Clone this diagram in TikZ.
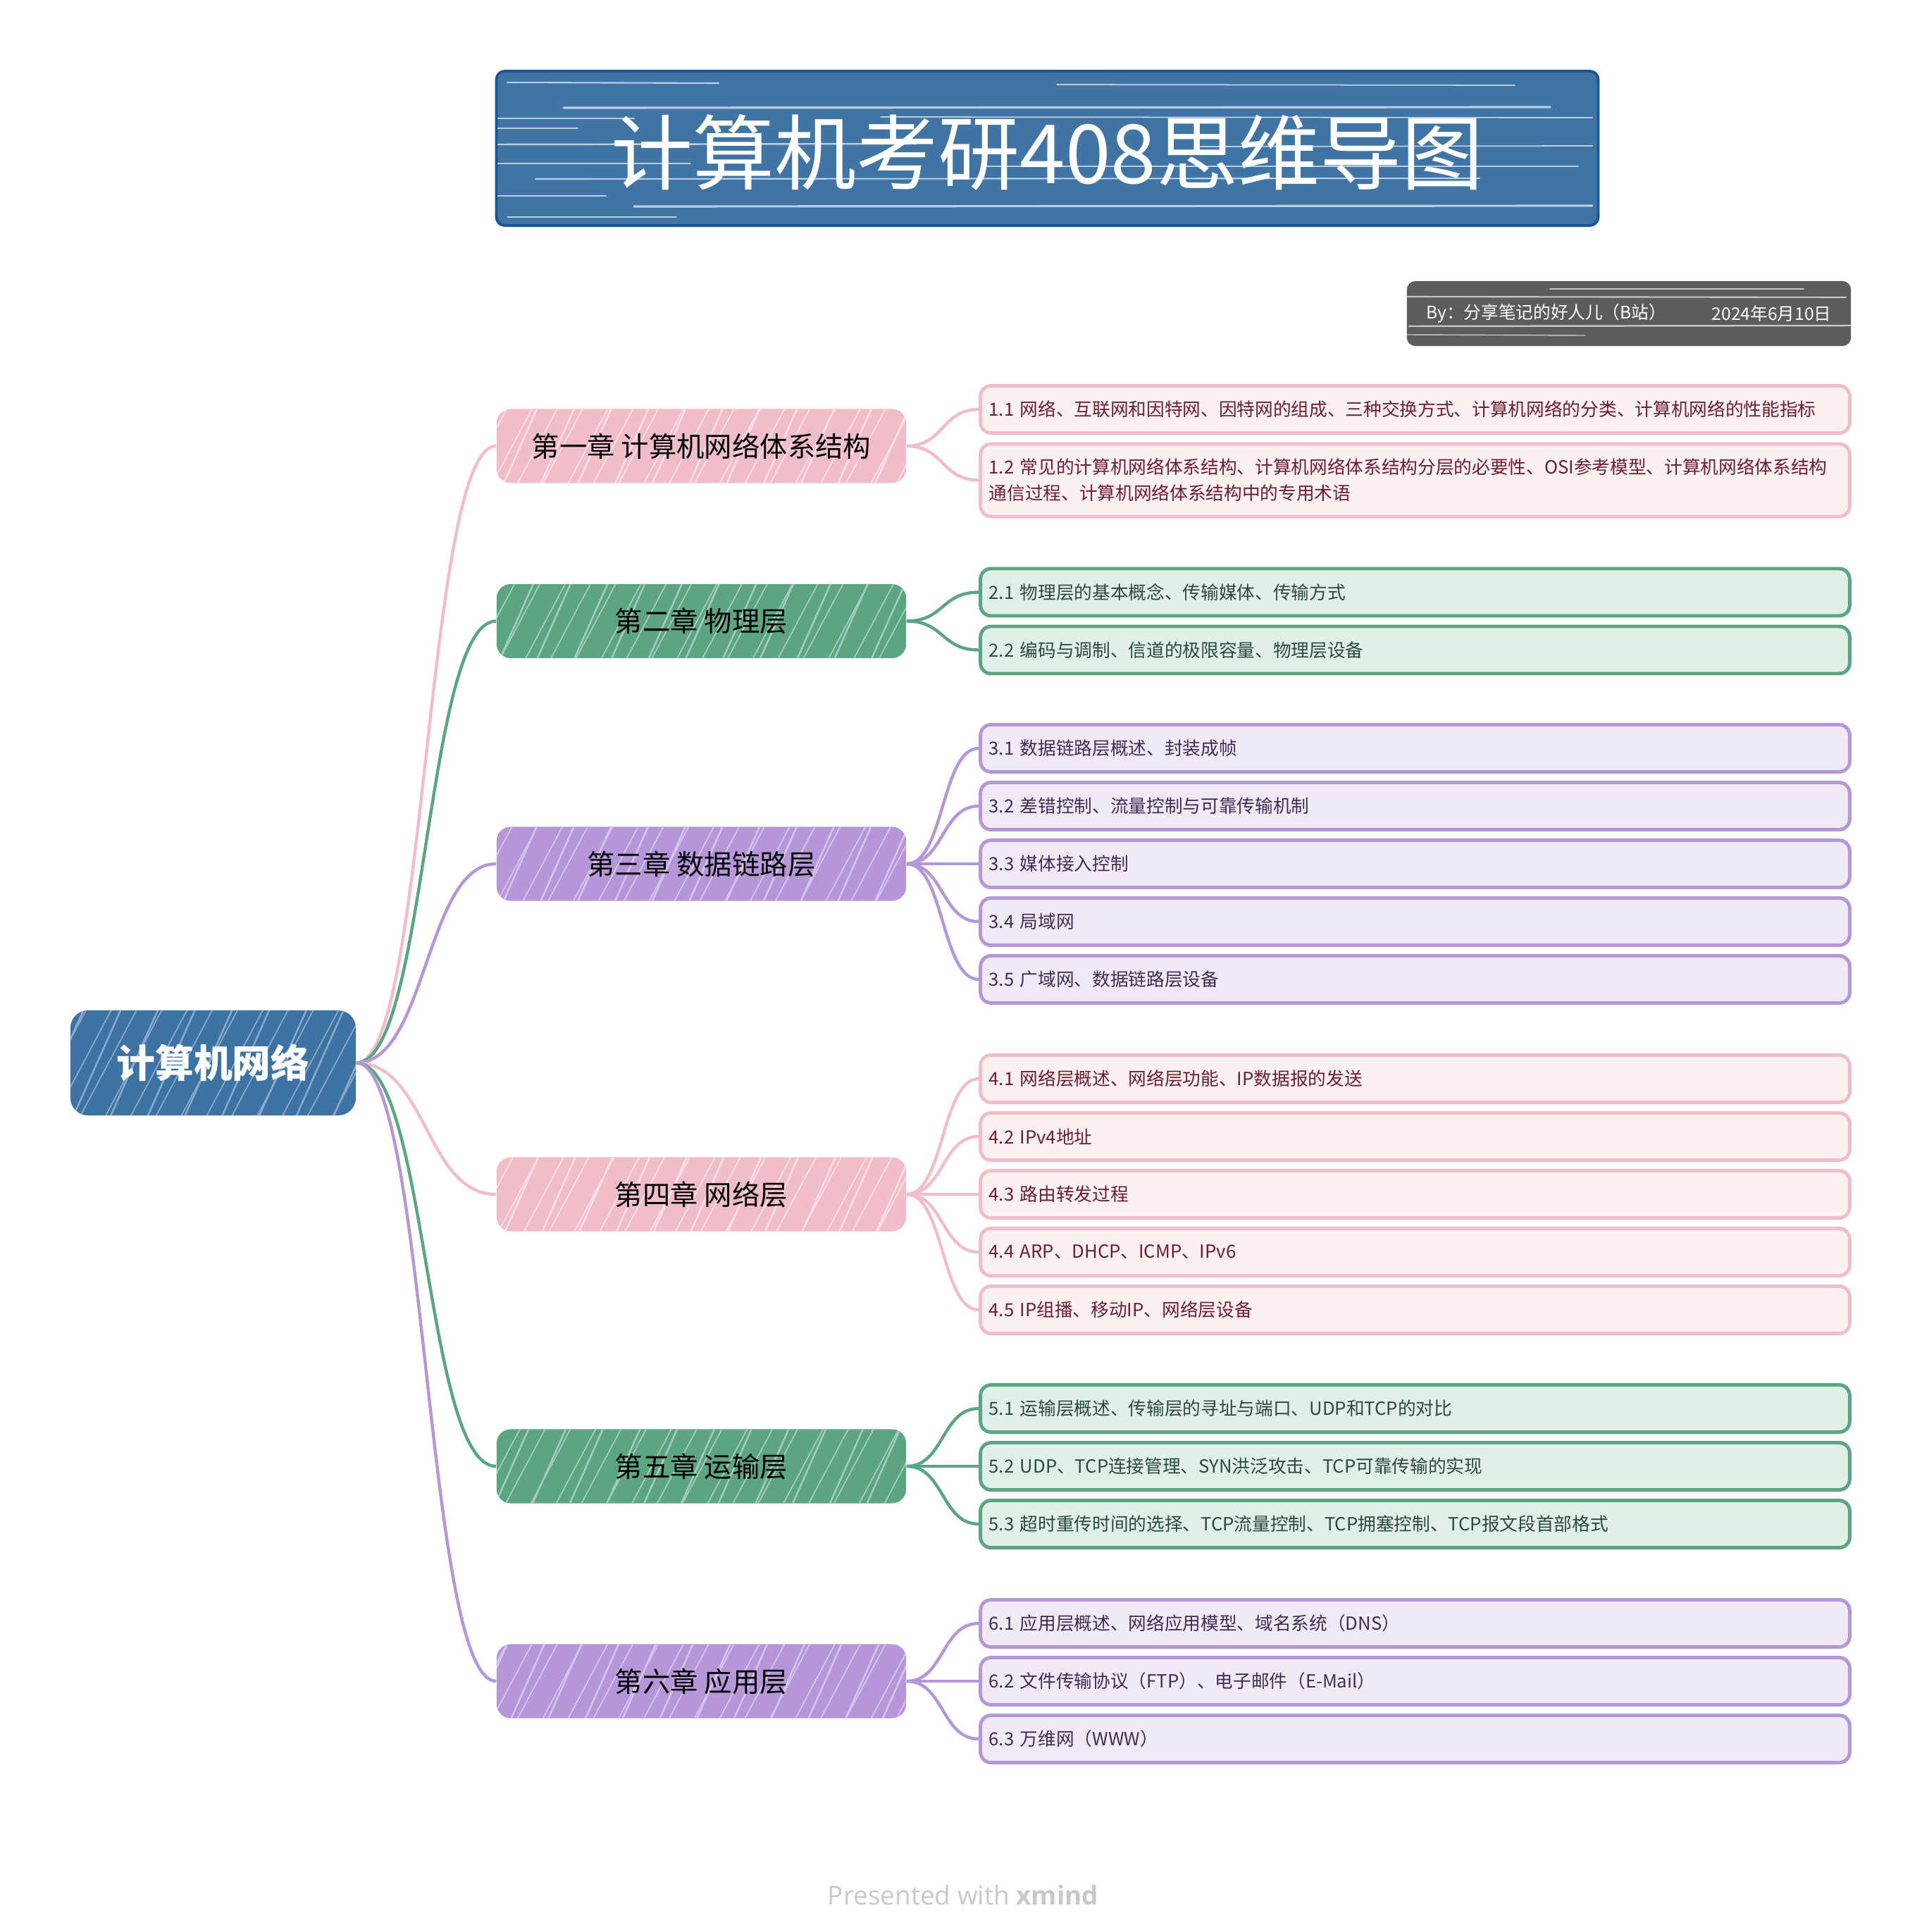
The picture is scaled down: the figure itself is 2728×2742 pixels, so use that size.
\documentclass[tikz,border=0pt]{standalone}
\usepackage{fontspec}
\setmainfont{Noto Sans CJK SC}
\newfontfamily\footfont{Open Sans}
\usetikzlibrary{patterns.meta}
\definecolor{pinkC}{HTML}{F1BDC8}
\definecolor{pinkL}{HTML}{FBF0F2}
\definecolor{pinkT}{HTML}{6E1E2F}
\definecolor{greenC}{HTML}{5BA582}
\definecolor{greenL}{HTML}{E0EFE7}
\definecolor{greenT}{HTML}{2E4A3F}
\definecolor{purpC}{HTML}{B597D9}
\definecolor{purpL}{HTML}{F0EAF7}
\definecolor{purpT}{HTML}{3E2E55}
\definecolor{rootC}{HTML}{3D72A4}
\definecolor{titleC}{HTML}{3F74A5}
\definecolor{titleB}{HTML}{1C5596}
\definecolor{authC}{HTML}{5C5C5C}
\definecolor{footC}{HTML}{C8C8C8}
\begin{document}
\begin{tikzpicture}[x=0.01cm,y=-0.01cm,
  hatch/.style={
    postaction={pattern={Lines[angle=62,distance=9pt,line width=0.5pt]}, pattern color=white!#1},
    postaction={pattern={Lines[angle=66,distance=13.7pt,line width=0.7pt,xshift=3pt]}, pattern color=white!#1}},
  rootbox/.style={fill=rootC, rounded corners=0.25cm, minimum width=4.05cm, minimum height=1.49cm,
    inner sep=0pt, text=white, font=\fontsize{15.6}{18}\selectfont\bfseries, hatch=40!rootC},
  chapbox/.style={rounded corners=0.2cm, minimum width=5.81cm, minimum height=1.05cm,
    inner sep=0pt, text=black, font=\fontsize{11.2}{13}\selectfont},
  pchap/.style={chapbox, fill=pinkC, hatch=55!pinkC},
  gchap/.style={chapbox, fill=greenC, hatch=45!greenC},
  vchap/.style={chapbox, fill=purpC, hatch=45!purpC},
  kidbox/.style={rounded corners=0.15cm, line width=1.4pt, text width=12.09cm, align=left,
    inner xsep=0.12cm, inner ysep=0pt, minimum height=0.67cm, font=\fontsize{7.3}{10.5}\selectfont},
  pkid/.style={kidbox, draw=pinkC, fill=pinkL, text=pinkT},
  gkid/.style={kidbox, draw=greenC, fill=greenL, text=greenT},
  vkid/.style={kidbox, draw=purpC, fill=purpL, text=purpT},
  lnk/.style={line width=1.25pt},
  streak/.style={white, opacity=0.65, line cap=round}
]
\useasboundingbox (0,0) rectangle (2728,2742);

% title
\node[fill=titleC, draw=titleB, line width=1.1pt, rounded corners=0.12cm, minimum width=15.63cm, minimum height=2.19cm, inner sep=0pt] (title) at (1486.5,210.5) {};
\begin{scope}
\clip[rounded corners=0.12cm] (706,102) rectangle (2267,319);
\draw[streak, line width=0.6pt] (720,117) -- (1020,118);
\draw[streak, line width=0.5pt] (1500,120) -- (2150,121);
\draw[streak, line width=0.9pt] (800,153) -- (2200,152);
\draw[streak, line width=0.6pt] (706,168) -- (900,168);
\draw[streak, line width=0.5pt] (1250,166) -- (2260,167);
\draw[streak, line width=0.5pt] (706,182) -- (820,182);
\draw[streak, line width=0.7pt] (706,205) -- (1300,204);
\draw[streak, line width=0.5pt] (1700,208) -- (2260,207);
\draw[streak, line width=0.6pt] (706,232) -- (980,232);
\draw[streak, line width=0.5pt] (1400,236) -- (2240,236);
\draw[streak, line width=0.6pt] (760,254) -- (2100,253);
\draw[streak, line width=0.5pt] (706,278) -- (860,278);
\draw[streak, line width=0.9pt] (900,293) -- (2260,292);
\draw[streak, line width=0.5pt] (720,308) -- (960,308);
\end{scope}
\node[text=white, font=\fontsize{33}{40}\selectfont] (titletext) at (1486.5,216) {计算机考研408思维导图};

% author
\node[fill=authC, rounded corners=0.12cm, minimum width=6.3cm, minimum height=0.92cm, inner sep=0pt] (auth) at (2312,445) {};
\begin{scope}
\clip[rounded corners=0.12cm] (1997,399) rectangle (2627,491);
\draw[streak, line width=0.6pt] (1997,421) -- (2620,422);
\draw[streak, line width=0.4pt] (2200,410) -- (2560,410);
\draw[streak, line width=0.7pt] (2000,463) -- (2627,462);
\draw[streak, line width=0.4pt] (1997,475) -- (2250,476);
\end{scope}
\node[anchor=west, text=white, font=\fontsize{7}{9}\selectfont, inner sep=0pt] (authname) at (2024,445) {By：分享笔记的好人儿（B站）};
\node[anchor=east, text=white, font=\fontsize{7}{9}\selectfont, inner sep=0pt] (authdate) at (2600,445) {2024年6月10日};

% root
\node[rootbox] (root) at (302.5,1508.5) {计算机网络};

% chapters
\node[pchap] (c1) at (995.5,633) {第一章 计算机网络体系结构};
\node[gchap] (c2) at (995.5,881.5) {第二章 物理层};
\node[vchap] (c3) at (995.5,1226) {第三章 数据链路层};
\node[pchap] (c4) at (995.5,1695) {第四章 网络层};
\node[gchap] (c5) at (995.5,2081) {第五章 运输层};
\node[vchap] (c6) at (995.5,2386) {第六章 应用层};

% children
\node[pkid] (k11) at (2008.5,581) {1.1 网络、互联网和因特网、因特网的组成、三种交换方式、计算机网络的分类、计算机网络的性能指标};
\node[pkid, minimum height=1.03cm] (k12) at (2008.5,681.5) {1.2 常见的计算机网络体系结构、计算机网络体系结构分层的必要性、OSI参考模型、计算机网络体系结构\\通信过程、计算机网络体系结构中的专用术语};
\node[gkid] (k21) at (2008.5,840.5) {2.1 物理层的基本概念、传输媒体、传输方式};
\node[gkid] (k22) at (2008.5,922.5) {2.2 编码与调制、信道的极限容量、物理层设备};
\node[vkid] (k31) at (2008.5,1062) {3.1 数据链路层概述、封装成帧};
\node[vkid] (k32) at (2008.5,1144) {3.2 差错控制、流量控制与可靠传输机制};
\node[vkid] (k33) at (2008.5,1226) {3.3 媒体接入控制};
\node[vkid] (k34) at (2008.5,1308) {3.4 局域网};
\node[vkid] (k35) at (2008.5,1390) {3.5 广域网、数据链路层设备};
\node[pkid] (k41) at (2008.5,1531) {4.1 网络层概述、网络层功能、IP数据报的发送};
\node[pkid] (k42) at (2008.5,1613) {4.2 IPv4地址};
\node[pkid] (k43) at (2008.5,1695) {4.3 路由转发过程};
\node[pkid] (k44) at (2008.5,1777) {4.4 ARP、DHCP、ICMP、IPv6};
\node[pkid] (k45) at (2008.5,1859) {4.5 IP组播、移动IP、网络层设备};
\node[gkid] (k51) at (2008.5,1999) {5.1 运输层概述、传输层的寻址与端口、UDP和TCP的对比};
\node[gkid] (k52) at (2008.5,2081) {5.2 UDP、TCP连接管理、SYN洪泛攻击、TCP可靠传输的实现};
\node[gkid] (k53) at (2008.5,2163) {5.3 超时重传时间的选择、TCP流量控制、TCP拥塞控制、TCP报文段首部格式};
\node[vkid] (k61) at (2008.5,2304) {6.1 应用层概述、网络应用模型、域名系统（DNS）};
\node[vkid] (k62) at (2008.5,2386) {6.2 文件传输协议（FTP）、电子邮件（E-Mail）};
\node[vkid] (k63) at (2008.5,2468) {6.3 万维网（WWW）};

% root connectors
\draw[lnk, pinkC]  (root.east) .. controls +(100,0) and +(-100,0) .. (c1.west);
\draw[lnk, greenC] (root.east) .. controls +(100,0) and +(-100,0) .. (c2.west);
\draw[lnk, purpC]  (root.east) .. controls +(100,0) and +(-100,0) .. (c3.west);
\draw[lnk, pinkC]  (root.east) .. controls +(100,0) and +(-100,0) .. (c4.west);
\draw[lnk, greenC] (root.east) .. controls +(100,0) and +(-100,0) .. (c5.west);
\draw[lnk, purpC]  (root.east) .. controls +(100,0) and +(-100,0) .. (c6.west);

% chapter connectors
\foreach \c/\k/\col in {c1/k11/pinkC, c1/k12/pinkC, c2/k21/greenC, c2/k22/greenC,
  c3/k31/purpC, c3/k32/purpC, c3/k33/purpC, c3/k34/purpC, c3/k35/purpC,
  c4/k41/pinkC, c4/k42/pinkC, c4/k43/pinkC, c4/k44/pinkC, c4/k45/pinkC,
  c5/k51/greenC, c5/k52/greenC, c5/k53/greenC,
  c6/k61/purpC, c6/k62/purpC, c6/k63/purpC}
  \draw[lnk, \col] (\c.east) .. controls +(53,0) and +(-53,0) .. (\k.west);

% footer
\node[text=footC, font=\footfont\fontsize{10.5}{12}\selectfont] (foot) at (1367,2690) {Presented with \textbf{xmind}};
\end{tikzpicture}
\end{document}
